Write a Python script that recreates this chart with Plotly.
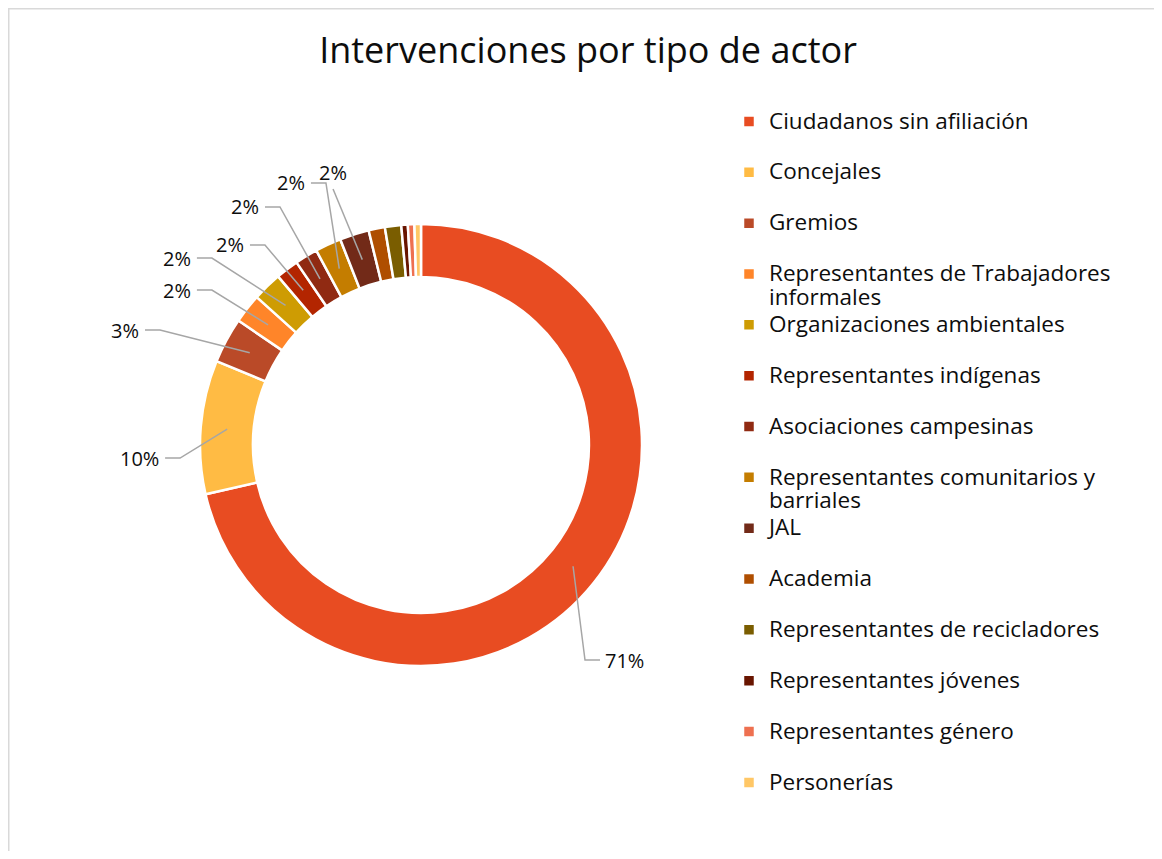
import math
import plotly.graph_objects as go

# --- data -------------------------------------------------------------
actores = [
    "Ciudadanos sin afiliación",
    "Concejales",
    "Gremios",
    "Representantes de Trabajadores<br>informales",
    "Organizaciones ambientales",
    "Representantes indígenas",
    "Asociaciones campesinas",
    "Representantes comunitarios y<br>barriales",
    "JAL",
    "Academia",
    "Representantes de recicladores",
    "Representantes jóvenes",
    "Representantes género",
    "Personerías",
]
intervenciones = [300, 41, 14, 9, 9, 7, 7, 8, 9, 5, 5, 2, 2, 2]
colores = [
    "#E84C22", "#FFBB44", "#BA4A28", "#FF8529", "#CE9C03", "#B32500", "#902A12",
    "#C47D00", "#722A18", "#AF4E00", "#7A5D00", "#681500", "#EE7050", "#FFC766",
]
con_etiqueta = [True] * 9 + [False] * 5

# label anchor (end of leader line) relative to centre, in radii (y down), and side
etiqueta_pos = [
    (0.810, 0.973, "right"),
    (-1.158, 0.059, "left"),
    (-1.249, -0.520, "left"),
    (-1.014, -0.701, "left"),
    (-1.014, -0.846, "left"),
    (-0.774, -0.905, "left"),
    (-0.706, -1.077, "left"),
    (-0.498, -1.186, "left"),
    (-0.398, -1.158, "above"),
]

# page has an 8px body margin; keep the figure inside the window
OFF = 8
W, H = 1162 - 2 * OFF, 859 - 2 * OFF
CX, CY, R = 421, 445, 221   # pie centre / radius in window pixels
HOLE = 0.76
FONT = "Open Sans"
TXT = "#0d0d0d"


def px(x):
    return (x - OFF) / W


def py(y):
    return 1 - (y - OFF) / H


total = sum(intervenciones)


def leyenda(nombre):
    lineas = nombre.split("<br>")
    if len(lineas) == 1:
        lineas.append("\u00a0")  # keep every entry two lines high
    return "<br>".join(f'<span style="font-size:22.5px">{l}</span>' for l in lineas)


fig = go.Figure(go.Pie(
    labels=[leyenda(a) for a in actores],
    values=intervenciones,
    marker=dict(colors=colores, line=dict(color="white", width=2.5)),
    hole=HOLE,
    sort=False,
    direction="clockwise",
    rotation=0,
    textinfo="none",
    domain=dict(x=[px(CX - R), px(CX + R)], y=[py(CY + R), py(CY - R)]),
))

shapes = []
annotations = []
acum = 0
k = 0
for v, show in zip(intervenciones, con_etiqueta):
    mid = (acum + v / 2) / total * 2 * math.pi
    acum += v
    if not show:
        continue
    rm = R * (1 + HOLE) / 2
    sx, sy = CX + rm * math.sin(mid), CY - rm * math.cos(mid)
    dx, dy, side = etiqueta_pos[k]
    k += 1
    ax, ay = CX + dx * R, CY + dy * R
    pct = f"{round(v / total * 100)}%"
    if side == "left":
        pts = [(sx, sy), (ax + 15, ay), (ax, ay)]
        annotations.append(dict(x=px(ax - 4), y=py(ay), text=pct, xanchor="right", yanchor="middle"))
    elif side == "right":
        pts = [(sx, sy), (ax - 15, ay), (ax, ay)]
        annotations.append(dict(x=px(ax + 3), y=py(ay), text=pct, xanchor="left", yanchor="middle"))
    else:
        pts = [(sx, sy), (ax, ay)]
        annotations.append(dict(x=px(ax), y=py(ay - 1), text=pct, xanchor="center", yanchor="bottom"))
    path = "M " + " L ".join(f"{px(x):.5f},{py(y):.5f}" for x, y in pts)
    shapes.append(dict(type="path", xref="paper", yref="paper", path=path,
                       line=dict(color="#A6A6A6", width=1.5)))

for a in annotations:
    a.update(xref="paper", yref="paper", showarrow=False,
             font=dict(family=FONT, size=20, color=TXT))

# chart-area border (left and top visible)
shapes.append(dict(type="rect", xref="paper", yref="paper",
                   x0=px(OFF + 0.75), y0=py(OFF + 0.75), x1=1.05, y1=-0.05,
                   line=dict(color="#D9D9D9", width=1.5)))

fig.update_layout(
    width=W, height=H,
    margin=dict(l=0, r=0, t=0, b=0),
    paper_bgcolor="white",
    title=dict(text="Intervenciones por tipo de actor", x=px(588), y=py(50),
               xanchor="center", yanchor="middle",
               font=dict(family=FONT, size=36, color=TXT)),
    legend=dict(x=px(729), y=py(103), xanchor="left", yanchor="top",
                valign="top", font=dict(family=FONT, size=18.4, color=TXT),
                bgcolor="rgba(0,0,0,0)"),
    shapes=shapes,
    annotations=annotations,
)

fig.write_html("out.html")
